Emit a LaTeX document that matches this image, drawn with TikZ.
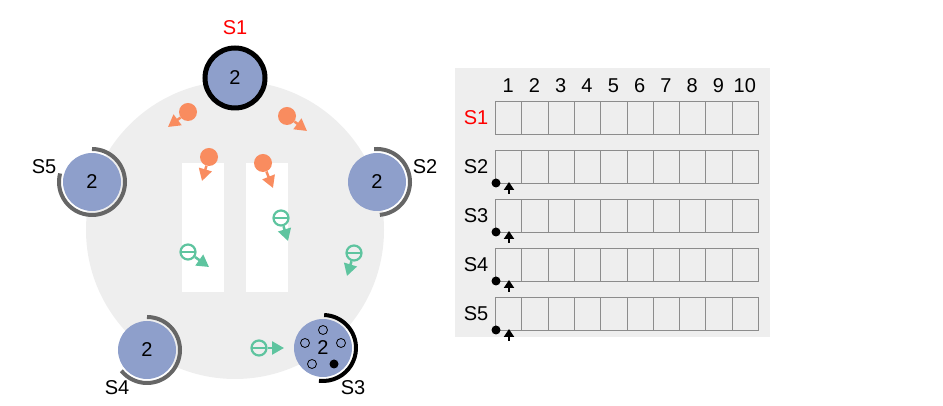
\documentclass[tikz,border=0pt]{standalone}
\usepackage{fontspec}
\setmainfont{Liberation Sans}
\usetikzlibrary{arrows.meta}
\definecolor{bgray}{HTML}{EEEEEE}
\definecolor{nodeblue}{HTML}{8E9FCB}
\definecolor{orng}{HTML}{F98C5F}
\definecolor{grn}{HTML}{5EC49F}
\definecolor{arcgray}{HTML}{666666}
\definecolor{cellgray}{HTML}{8C8C8C}
\tikzset{
  txt/.style={font=\fontsize{20}{24}\selectfont, inner sep=0pt},
  snode/.style={circle, fill=nodeblue, minimum size=58pt, inner sep=0pt, font=\fontsize{20}{24}\selectfont},
  arcline/.style={line width=4pt, draw=arcgray},
  odot/.style={circle, fill=orng, minimum size=18pt, inner sep=0pt},
  gdot/.style={circle, draw=grn, line width=2.2pt, minimum size=15pt, inner sep=0pt, path picture={\draw[grn, line width=2.2pt] (path picture bounding box.west) -- (path picture bounding box.east);}},
  oarrow/.style={draw=orng, line width=2.5pt, -{Triangle[length=12pt,width=13pt]}},
  garrow/.style={draw=grn, line width=2.5pt, -{Triangle[length=12pt,width=13pt]}},
  cell/.style={draw=cellgray, line width=1pt, minimum width=26.3pt, minimum height=33pt, inner sep=0pt, anchor=north west},
  smalldot/.style={circle, draw=black, line width=0.8pt, minimum size=9pt, inner sep=0pt},
  marker/.style={circle, fill=black, minimum size=9pt, inner sep=0pt},
  upmark/.style={draw=black, line width=2pt, -{Triangle[length=8pt,width=10pt]}}
}
\begin{document}
\begin{tikzpicture}[x=1pt,y=1pt]
\useasboundingbox (0,0) rectangle (943,406);
% big gray disc
\fill[bgray] (235,176) circle (149);
\fill[white] (182,114) rectangle (224,243);
\fill[white] (246,114) rectangle (288,243);

% servers
\node[snode, draw=black, line width=5pt, minimum size=60pt] (s1) at (235,328) {2};
\node[snode] (s2) at (377,224) {2};
\node[snode] (s3) at (323,58) {};
\node[snode] (s4) at (147,56) {2};
\node[snode] (s5) at (92,224) {2};

\draw[arcline] ([shift={(95:33)}]s2.center) arc[start angle=95, end angle=-85, radius=33];
\draw[arcline] ([shift={(90:33)}]s5.center) arc[start angle=90, end angle=-195, radius=33];
\draw[arcline] ([shift={(90:33)}]s4.center) arc[start angle=90, end angle=-141, radius=33];
\draw[line width=4pt, black] ([shift={(88:33)}]s3.center) arc[start angle=88, end angle=-97, radius=33];

\node[txt] (s3n) at (s3.center) {2};
\node[smalldot] (c1) at (323,76) {};
\node[smalldot] (c2) at (305,63) {};
\node[smalldot] (c3) at (341,63) {};
\node[smalldot] (c4) at (312,42) {};
\node[marker] (c5) at (334,42) {};

% labels
\node[txt, text=red] (l1) at (235,378) {S1};
\node[txt] (l2) at (425,239) {S2};
\node[txt] (l3) at (353,18) {S3};
\node[txt] (l4) at (117,18) {S4};
\node[txt] (l5) at (44,239) {S5};

% orange messages
\node[odot] (o1) at (188,294) {};
\coordinate (o1e) at (168,279);
\draw[oarrow] (o1) -- (o1e);
\node[odot] (o2) at (287,290) {};
\coordinate (o2e) at (307,275);
\draw[oarrow] (o2) -- (o2e);
\node[odot] (o3) at (209,249) {};
\coordinate (o3e) at (202,225);
\draw[oarrow] (o3) -- (o3e);
\node[odot] (o4) at (263,243) {};
\coordinate (o4e) at (273,218);
\draw[oarrow] (o4) -- (o4e);

% green messages
\node[gdot] (g1) at (188,154) {};
\coordinate (g1e) at (209,139);
\draw[garrow] (g1) -- (g1e);
\node[gdot] (g2) at (281,188) {};
\coordinate (g2e) at (288,165);
\draw[garrow] (g2) -- (g2e);
\node[gdot] (g3) at (354,153) {};
\coordinate (g3e) at (347,130);
\draw[garrow] (g3) -- (g3e);
\node[gdot] (g4) at (259,58) {};
\coordinate (g4e) at (284,58);
\draw[garrow] (g4) -- (g4e);

% table
\fill[bgray] (455,69) rectangle (770,338);
\foreach \i in {1,...,10} {
  \node[txt] (h\i) at ({495+26.3*(\i-0.5)},320) {\i};
}
\foreach \r/\top in {1/305,2/256,3/207,4/158,5/109} {
  \foreach \i in {1,...,10} {
    \node[cell] (r\r c\i) at ({495+26.3*(\i-1)},\top) {};
  }
}
\node[txt, text=red] (t1) at (476,288.5) {S1};
\foreach \r/\top in {2/256,3/207,4/158,5/109} {
  \node[txt] (t\r) at (476,{\top-16.5}) {S\r};
  \node[marker] (m\r) at (496,{\top-33}) {};
  \coordinate (a\r s) at (509,{\top-44});
  \coordinate (a\r e) at (509,{\top-32});
  \draw[upmark] (a\r s) -- (a\r e);
}
\end{tikzpicture}
\end{document}
